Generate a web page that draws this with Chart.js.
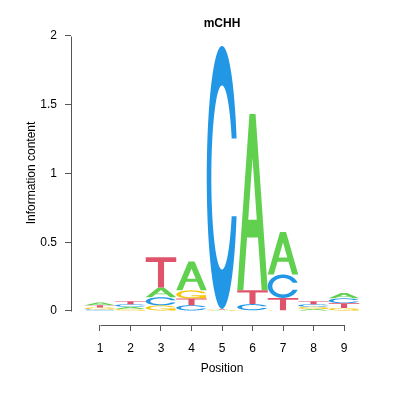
<!DOCTYPE html>
<html><head><meta charset="utf-8">
<script src="https://cdn.jsdelivr.net/npm/chart.js@4/dist/chart.umd.min.js"></script>
<style>html,body{margin:0;padding:0;background:#fff}</style>
</head><body>
<canvas id="c" width="396" height="396"></canvas>
<script>
// ---- data (information content per letter, per position) ----
const positions = [1, 2, 3, 4, 5, 6, 7, 8, 9];
const letters = ['A', 'C', 'G', 'T'];
const heightA = [0.020, 0.016, 0.070, 0.210, 0.005, 1.283, 0.310, 0.014, 0.038];
const heightC = [0.012, 0.019, 0.060, 0.042, 1.912, 0.045, 0.170, 0.019, 0.036];
const heightG = [0.014, 0.014, 0.040, 0.060, 0.005, 0.005, 0.005, 0.016, 0.022];
const heightT = [0.016, 0.021, 0.220, 0.048, 0.005, 0.100, 0.090, 0.022, 0.034];
const yTicks = [0, 0.5, 1, 1.5, 2];
const titleText = 'mCHH';
const xTitle = 'Position';
const yTitle = 'Information content';
const colors = {A: '#61D04F', C: '#2297E6', G: '#F5C710', T: '#DF536B'};

// ---- stack letters: smallest at the bottom ----
const heights = {A: heightA, C: heightC, G: heightG, T: heightT};
const ranges = {A: [], C: [], G: [], T: []};
positions.forEach((p, i) => {
  const order = letters.slice().sort((a, b) => heights[a][i] - heights[b][i]);
  let acc = 0;
  order.forEach(L => {
    ranges[L].push({x: p, y: [acc, acc + heights[L][i]]});
    acc += heights[L][i];
  });
});

// ---- letter shapes in unit square (y up), seqLogo style ----
function lin(a, b, n) { const r = []; for (let i = 0; i < n; i++) r.push(a + (b - a) * i / (n - 1)); return r; }
function ring() {
  const a1 = lin(0.3 + Math.PI / 2, Math.PI, 100), a2 = lin(Math.PI, 1.5 * Math.PI, 100);
  const xl1 = a1.map(a => 0.5 + 0.5 * Math.sin(a)), yl1 = a1.map(a => 0.5 + 0.5 * Math.cos(a));
  const xl2 = a2.map(a => 0.5 + 0.5 * Math.sin(a)), yl2 = a2.map(a => 0.5 + 0.5 * Math.cos(a));
  const xl = xl1.concat(xl2), yl = yl1.concat(yl2);
  const x = xl.concat(xl.slice().reverse());
  const y = yl.concat(yl.slice().reverse().map(v => 1 - v));
  const h = Math.max(...yl1);
  let xi1 = a1.map(a => 0.5 + 0.35 * Math.sin(a)), yi1 = a1.map(a => 0.5 + 0.35 * Math.cos(a));
  const keep = yi1.map(v => v <= h);
  xi1 = xi1.filter((v, k) => keep[k]); yi1 = yi1.filter((v, k) => keep[k]);
  yi1[0] = h;
  const xi2 = a2.map(a => 0.5 + 0.35 * Math.sin(a)), yi2 = a2.map(a => 0.5 + 0.35 * Math.cos(a));
  const xi = xi1.concat(xi2), yi = yi1.concat(yi2);
  const x1 = xi.concat(xi.slice().reverse());
  const y1 = yi.concat(yi.slice().reverse().map(v => 1 - v));
  const X = x.concat(x1.slice().reverse()), Y = y.concat(y1.slice().reverse());
  return {pts: X.map((v, k) => [v, Y[k]]), r1: Math.max(...xl1)};
}
const R = ring();
const shapes = {
  A: [[[0,0],[0.4,1],[0.6,1],[1,0],[0.8,0],[0.68,0.3],[0.32,0.3],[0.2,0],[0,0]],
      [[0.36,0.4],[0.5,0.75],[0.64,0.4],[0.36,0.4]]],
  T: [[[0,1],[1,1],[1,0.85],[0.6,0.85],[0.6,0],[0.4,0],[0.4,0.85],[0,0.85]]],
  C: [R.pts],
  G: [R.pts, [[R.r1,0.4],[0.5,0.4],[0.5,0.3],[R.r1-0.2,0.3],[R.r1-0.2,0],[R.r1,0],[R.r1,0.4]]]
};

const logoPlugin = {
  id: 'logo',
  afterDatasetsDraw(chart) {
    const ctx = chart.ctx;
    chart.data.datasets.forEach((ds, di) => {
      const meta = chart.getDatasetMeta(di);
      const L = ds.label;
      meta.data.forEach(el => {
        const p = el.getProps(['x', 'y', 'base', 'width'], true);
        const top = Math.min(p.y, p.base), bot = Math.max(p.y, p.base);
        const h = bot - top; if (h <= 0) return;
        const left = p.x - p.width / 2, w = p.width;
        ctx.save();
        ctx.fillStyle = colors[L];
        const polys = shapes[L];
        if (L === 'G') {
          polys.forEach(poly => {
            ctx.beginPath();
            poly.forEach((q, k) => { const px = left + q[0] * w, py = bot - q[1] * h; k ? ctx.lineTo(px, py) : ctx.moveTo(px, py); });
            ctx.closePath(); ctx.fill();
          });
        } else {
          ctx.beginPath();
          polys.forEach(poly => {
            poly.forEach((q, k) => { const px = left + q[0] * w, py = bot - q[1] * h; k ? ctx.lineTo(px, py) : ctx.moveTo(px, py); });
            ctx.closePath();
          });
          ctx.fill('evenodd');
        }
        ctx.restore();
      });
    });
  },
  afterDraw(chart) {
    const ctx = chart.ctx, xs = chart.scales.x, ys = chart.scales.y, ca = chart.chartArea;
    ctx.save();
    ctx.strokeStyle = '#555'; ctx.lineWidth = 1;
    const xa = Math.round(ca.left) + 0.5;
    ctx.beginPath();
    ctx.moveTo(xa, Math.round(ys.getPixelForValue(yTicks[0])) + 0.5);
    ctx.lineTo(xa, Math.round(ys.getPixelForValue(yTicks[yTicks.length - 1])) + 0.5);
    ctx.stroke();
    const ya = Math.round(ca.bottom) + 0.5;
    ctx.beginPath();
    ctx.moveTo(Math.round(xs.getPixelForValue(positions[0])) + 0.5, ya);
    ctx.lineTo(Math.round(xs.getPixelForValue(positions[positions.length - 1])) + 0.5, ya);
    ctx.stroke();
    ctx.restore();
  }
};

const fam = "'Liberation Sans', Arial, Helvetica, sans-serif";
const gridOpts = {display: true, offset: false, drawOnChartArea: false, drawTicks: true, tickLength: 6, tickColor: '#555', tickWidth: 1};

new Chart(document.getElementById('c').getContext('2d'), {
  type: 'bar',
  data: {
    datasets: letters.map(L => ({
      label: L, data: ranges[L],
      backgroundColor: 'rgba(0,0,0,0)', borderWidth: 0,
      grouped: false, barPercentage: 1, categoryPercentage: 1
    }))
  },
  options: {
    responsive: false, animation: false, devicePixelRatio: 1,
    layout: {padding: {left: 0, right: 23, top: 0, bottom: 0}},
    plugins: {
      legend: {display: false}, tooltip: {enabled: false},
      title: {display: true, text: titleText, color: '#000', fullSize: false,
        font: {family: fam, size: 12, weight: 'bold'}, padding: {top: 16.5, bottom: -9.9}}
    },
    scales: {
      x: {
        type: 'linear', min: 0.05, max: 9.95, offset: false,
        afterBuildTicks: s => { s.ticks = positions.map(v => ({value: v})); },
        afterFit: s => { s.height = 71; },
        grid: gridOpts, border: {display: false},
        ticks: {padding: 10, color: '#000', font: {family: fam, size: 12}, autoSkip: false, maxRotation: 0, callback: v => String(v)},
        title: {display: true, text: xTitle, color: '#000', font: {family: fam, size: 12}, padding: {top: 0, bottom: 19.8}}
      },
      y: {
        min: -0.102, max: 2.109,
        afterBuildTicks: s => { s.ticks = yTicks.map(v => ({value: v})); },
        afterFit: s => { s.width = 71; },
        grid: gridOpts, border: {display: false},
        ticks: {padding: 8, color: '#000', font: {family: fam, size: 12}, callback: v => String(v)},
        title: {display: true, text: yTitle, color: '#000', font: {family: fam, size: 12}, padding: {top: 24, bottom: 0}}
      }
    }
  },
  plugins: [logoPlugin]
});
</script>
</body></html>
